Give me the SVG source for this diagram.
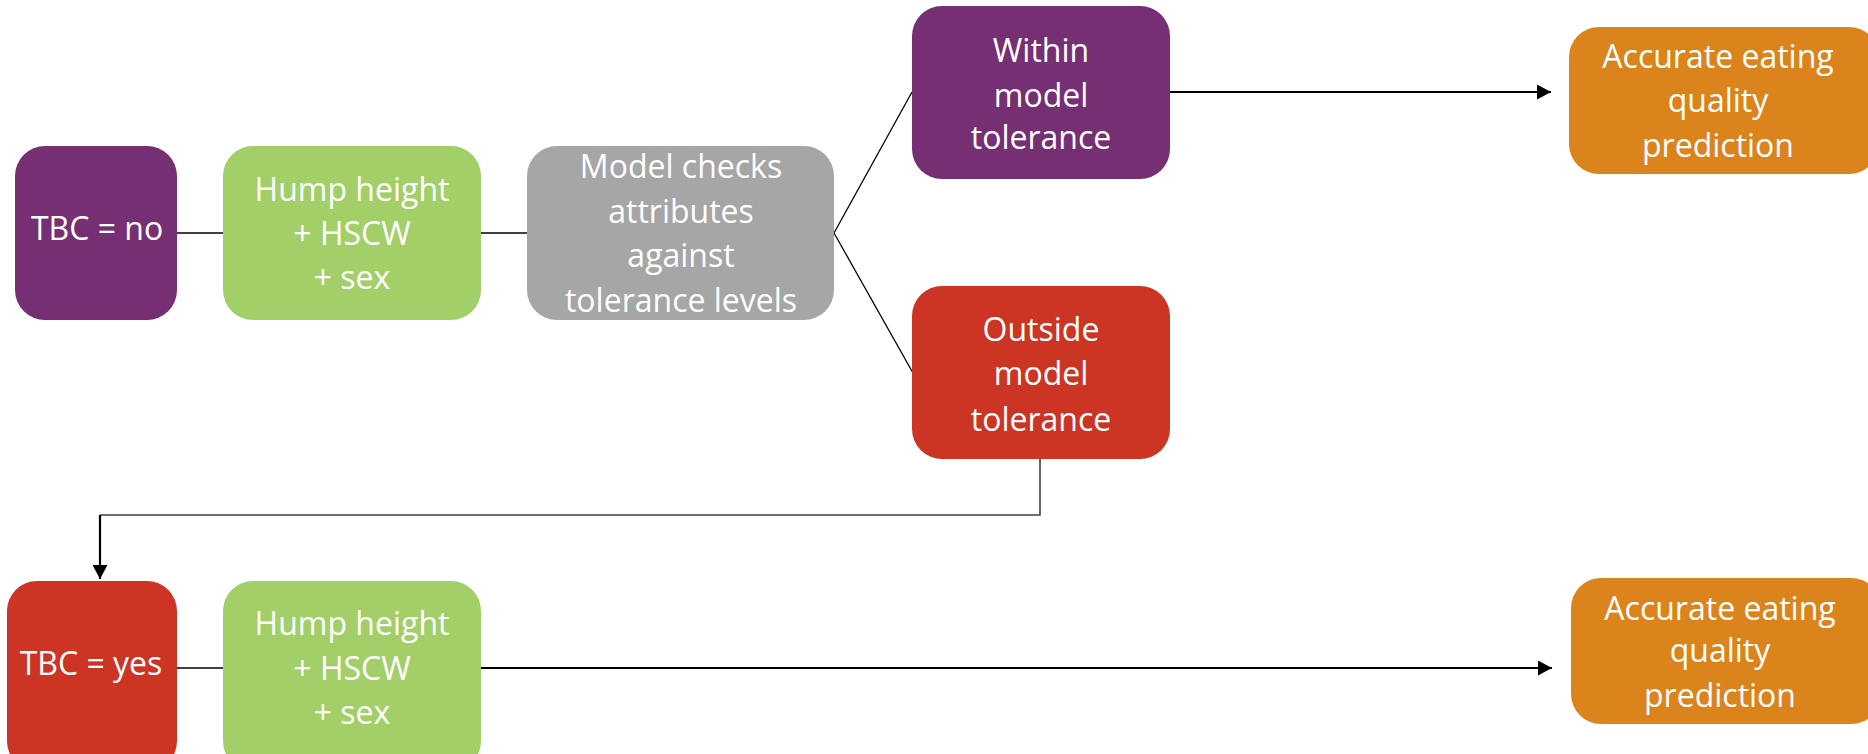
<svg xmlns="http://www.w3.org/2000/svg" width="1868" height="754" viewBox="0 0 1868 754">
<style>
text{font-family:"Open Sans","Liberation Sans",sans-serif;font-size:32px;fill:#fff;text-anchor:middle}
.purple{fill:#772F73}.green{fill:#A2CF68}.grey{fill:#A6A6A6}.red{fill:#CC3524}.orange{fill:#DC841C}
.thin{stroke:#000;stroke-width:1.3;fill:none}
.thick{stroke:#000;stroke-width:2.2;fill:none}
</style>
<defs>
<marker id="arr" markerWidth="14" markerHeight="15" refX="14" refY="7.5" orient="auto" markerUnits="userSpaceOnUse">
<path d="M0,0 L14,7.5 L0,15 Z" fill="#000"/>
</marker>
</defs>
<g id="connectors">
<line class="thin" x1="177" y1="233" x2="223" y2="233"/>
<line class="thin" x1="481" y1="233" x2="527" y2="233"/>
<line class="thin" x1="834" y1="233" x2="912" y2="92"/>
<line class="thin" x1="834" y1="233" x2="913" y2="373"/>
<line class="thick" x1="1170" y1="92" x2="1551" y2="92" marker-end="url(#arr)"/>
<polyline points="1040,459 1040,515 100,515" fill="none" stroke="#404040" stroke-width="1.6"/>
<line class="thick" x1="100" y1="515" x2="100" y2="579" marker-end="url(#arr)"/>
<line class="thin" x1="177" y1="668" x2="223" y2="668"/>
<line class="thick" x1="481" y1="668" x2="1552" y2="668" marker-end="url(#arr)"/>
</g>
<g id="tbc-no">
<rect class="purple" x="15" y="146" width="162" height="174" rx="30"/>
<text x="97" y="240">TBC = no</text>
</g>
<g id="inputs-1">
<rect class="green" x="223" y="146" width="258" height="174" rx="30"/>
<text x="352" y="201">Hump height</text>
<text x="352" y="245">+ HSCW</text>
<text x="352" y="289">+ sex</text>
</g>
<g id="model-check">
<rect class="grey" x="527" y="146" width="307" height="174" rx="30"/>
<text x="681" y="178">Model checks</text>
<text x="681" y="223">attributes</text>
<text x="681" y="267">against</text>
<text x="681" y="312">tolerance levels</text>
</g>
<g id="within">
<rect class="purple" x="912" y="6" width="258" height="173" rx="30"/>
<text x="1041" y="62">Within</text>
<text x="1041" y="107">model</text>
<text x="1041" y="149">tolerance</text>
</g>
<g id="outside">
<rect class="red" x="912" y="286" width="258" height="173" rx="30"/>
<text x="1041" y="341">Outside</text>
<text x="1041" y="385">model</text>
<text x="1041" y="431">tolerance</text>
</g>
<g id="accurate-1">
<rect class="orange" x="1569" y="27" width="310" height="147" rx="30"/>
<text x="1718" y="68">Accurate eating</text>
<text x="1718" y="112">quality</text>
<text x="1718" y="157">prediction</text>
</g>
<g id="tbc-yes">
<rect class="red" x="7" y="581" width="170" height="190" rx="30"/>
<text x="91" y="675">TBC = yes</text>
</g>
<g id="inputs-2">
<rect class="green" x="223" y="581" width="258" height="190" rx="30"/>
<text x="352" y="635">Hump height</text>
<text x="352" y="680">+ HSCW</text>
<text x="352" y="724">+ sex</text>
</g>
<g id="accurate-2">
<rect class="orange" x="1571" y="578" width="310" height="146" rx="30"/>
<text x="1720" y="620">Accurate eating</text>
<text x="1720" y="662">quality</text>
<text x="1720" y="707">prediction</text>
</g>
</svg>
